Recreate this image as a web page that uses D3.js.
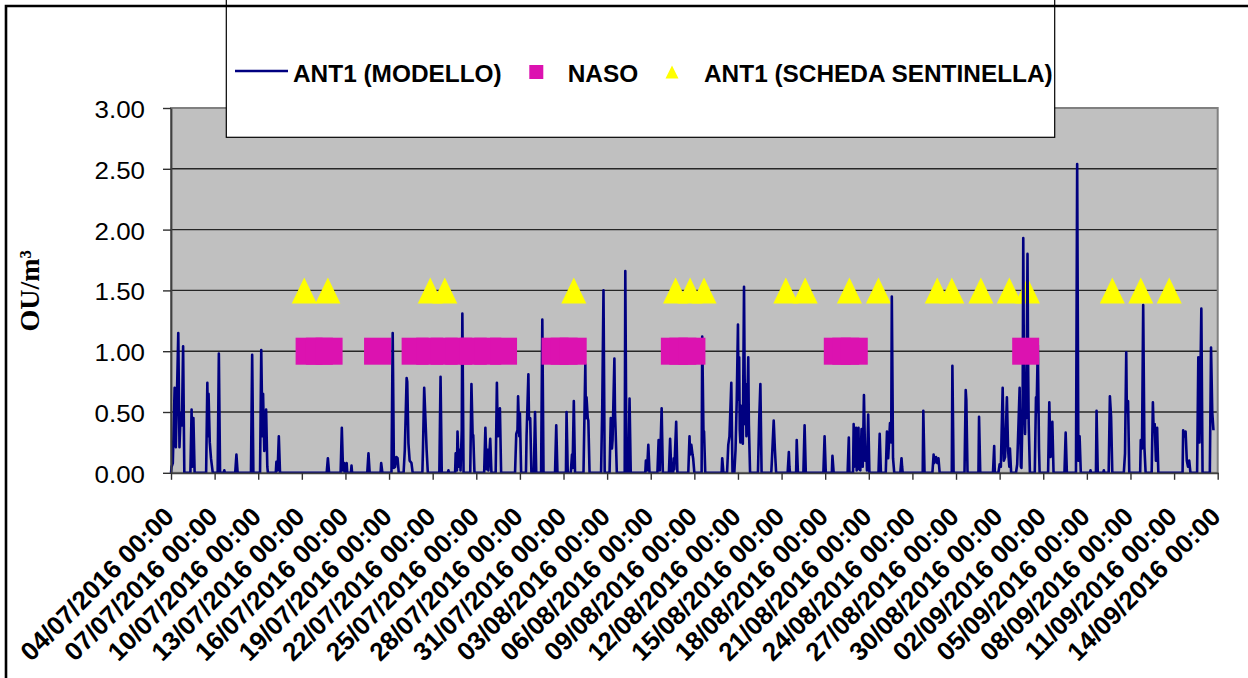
<!DOCTYPE html>
<html>
<head>
<meta charset="utf-8">
<script src="https://cdn.jsdelivr.net/npm/d3@7"></script>
<style>
  html, body { margin: 0; padding: 0; background: #ffffff; }
  svg { display: block; }
</style>
</head>
<body>
<svg id="chart" width="1248" height="678"></svg>
<script>
// Category labels along the time axis (every 3 days)
const tickLabels = [
  "04/07/2016 00:00", "07/07/2016 00:00", "10/07/2016 00:00", "13/07/2016 00:00",
  "16/07/2016 00:00", "19/07/2016 00:00", "22/07/2016 00:00", "25/07/2016 00:00",
  "28/07/2016 00:00", "31/07/2016 00:00", "03/08/2016 00:00", "06/08/2016 00:00",
  "09/08/2016 00:00", "12/08/2016 00:00", "15/08/2016 00:00", "18/08/2016 00:00",
  "21/08/2016 00:00", "24/08/2016 00:00", "27/08/2016 00:00", "30/08/2016 00:00",
  "02/09/2016 00:00", "05/09/2016 00:00", "08/09/2016 00:00", "11/09/2016 00:00",
  "14/09/2016 00:00"
];
const yTicks = [0, 0.5, 1, 1.5, 2, 2.5, 3];

const seriesNames = ["ANT1 (MODELLO)", "NASO", "ANT1 (SCHEDA SENTINELLA)"];

// NASO detections: hours from 04/07/2016 00:00, all at 1.00 OU/m3
const nasoHours = [228, 245, 261, 341, 403, 427, 451, 475, 499, 523, 549,
  634, 649, 664, 831, 845, 860, 1100, 1114, 1128, 1411];
const nasoValues = nasoHours.map(() => 1.0);

// Sentinel card reports: hours from 04/07/2016 00:00, all at 1.50 OU/m3
const sentinellaHours = [220, 259, 428, 452, 665, 833, 857, 880, 1015, 1047,
  1120, 1168, 1265, 1289, 1337, 1384, 1414, 1554, 1601, 1648];
const sentinellaValues = sentinellaHours.map(() => 1.5);

// Model output ANT1: [hour from 04/07/2016 00:00, OU/m3]
const modelSeries = [
  [0,0],[1,0.05],[3,0.08],[6,0.70],[8,0.21],[12,1.15],[14,0.21],[16,0.49],[18,0.39],[20,1.04],[22,0],
  [32,0],[34,0.52],[35,0.05],[37,0.45],[39,0],
  [58,0],[60,0.74],[61,0.30],[62,0.65],[64,0.25],[66,0.12],[67,0.08],[69,0],
  [77,0],[79,0.98],[81,0],
  [87,0],[88,0.02],[89,0],
  [106,0],[108,0.15],[110,0],
  [132,0],[134,0.97],[136,0],
  [147,0],[149,1.01],[151,0.30],[152,0.65],[154,0.18],[157,0.52],[159,0.05],[160,0],
  [173,0],[174,0.09],[176,0.02],[178,0.30],[180,0],
  [257,0],[259,0.12],[261,0],
  [280,0],[282,0.37],[284,0.02],[286,0.08],[287,0],[290,0.08],[291,0],[297,0],[298,0.06],[299,0],
  [324,0],[326,0.16],[328,0],
  [346,0],[347,0.08],[349,0],
  [364,0],[366,1.15],[368,0.04],[370,0.05],[372,0.13],[374,0.12],[376,0],
  [384,0],[386,0.19],[389,0.78],[390,0.75],[392,0.24],[394,0.10],[397,0.08],[399,0],
  [415,0],[416,0.20],[418,0.70],[420,0.45],[422,0.19],[424,0],
  [443,0],[445,0.79],[447,0],
  [457,0],[458,0.02],[459,0],
  [469,0],[470,0.16],[472,0.02],[473,0.34],[475,0.05],[477,0.19],[478,0.02],[480,0.35],[481,1.31],[483,0],
  [494,0],[496,0.73],[498,0.30],[499,0.31],[501,0],
  [517,0],[519,0.37],[521,0.03],[523,0.19],[524,0.02],[527,0.28],[529,0],
  [536,0],[538,0.74],[539,0.45],[540,0.30],[541,0.35],[543,0.53],[545,0],
  [568,0],[570,0.32],[572,0.35],[573,0.63],[575,0.30],[576,0.49],[578,0],
  [586,0],[587,0.30],[590,0.81],[591,0.44],[593,0.45],[595,0],
  [599,0],[601,0.50],[603,0],
  [611,0],[613,1.26],[615,0],
  [634,0],[636,0.39],[638,0],
  [652,0],[653,0.50],[655,0],
  [660,0],[662,0.15],[663,0.04],[665,0.59],[667,0],
  [681,0],[684,0.89],[685,0.45],[686,0.62],[688,0.45],[689,0.43],[691,0],
  [710,0],[712,0.56],[714,1.50],[716,0],
  [724,0],[726,0.45],[728,0.20],[729,0.27],[732,0.94],[733,0.50],[734,0.35],[736,0],
  [749,0],[750,1.66],[752,0],
  [755,0],[757,0.61],[759,0],
  [783,0],[784,0.10],[786,0.02],[788,0.23],[790,0],
  [803,0],[805,0.27],[807,0.02],[810,0.53],[812,0],
  [822,0],[824,0.28],[826,0],
  [829,0],[830,0.12],[831,0.03],[834,0.42],[836,0],
  [854,0],[856,0.30],[857,0.15],[859,0.23],[861,0.15],[862,0.12],[864,0],
  [876,0],[877,1.12],[879,0.35],[880,0.34],[882,0],
  [909,0],[910,0.12],[912,0],
  [918,0],[920,0.23],[922,0.30],[925,0.74],[927,0],
  [930,0],[932,0.19],[934,0.60],[936,1.22],[937,0.60],[938,0.95],[939,0.35],[940,0.25],[941,0.55],
  [942,0.30],[943,0.45],[944,0.24],[946,1.53],[947,0.80],[948,0.40],[949,0.73],[950,0.30],[951,0.45],
  [953,0.95],[954,0.40],[956,0],
  [969,0],[971,0.43],[973,0.73],[975,0],
  [991,0],[992,0.10],[995,0.43],[997,0.19],[999,0],
  [1018,0],[1020,0.17],[1021,0.05],[1022,0],
  [1032,0],[1033,0.27],[1035,0],
  [1044,0],[1046,0.39],[1048,0],
  [1077,0],[1079,0.30],[1081,0],
  [1091,0],[1092,0.14],[1094,0],
  [1117,0],[1119,0.29],[1120,0],
  [1126,0],[1127,0.40],[1128,0.05],[1131,0.37],[1132,0.02],[1135,0.37],[1136,0.03],[1138,0.02],
  [1140,0.36],[1142,0.05],[1144,0.64],[1146,0.10],[1148,0.19],[1149,0.02],[1151,0.48],[1153,0],
  [1168,0],[1170,0.32],[1172,0],
  [1180,0],[1182,0.34],[1184,0.12],[1187,0.41],[1189,0.25],[1190,1.45],[1192,0.12],[1194,0],
  [1204,0],[1206,0.12],[1207,0.05],[1208,0],
  [1241,0],[1242,0.51],[1244,0],
  [1257,0],[1259,0.15],[1260,0.08],[1263,0.13],[1265,0.08],[1267,0.12],[1269,0],
  [1289,0],[1290,0.88],[1292,0],
  [1310,0],[1312,0.68],[1313,0.60],[1315,0],
  [1333,0],[1334,0.46],[1336,0],
  [1357,0],[1359,0.22],[1360,0],
  [1366,0],[1368,0.07],[1370,0.05],[1373,0.70],[1375,0.10],[1377,0.13],[1380,0.62],[1382,0.18],
  [1384,0.05],[1385,0.20],[1387,0],
  [1395,0],[1397,0.07],[1401,0.70],[1403,0.05],[1404,0.04],[1406,0.55],[1407,1.93],[1408,0.90],
  [1409,0.60],[1410,0.32],[1411,0.80],[1412,0.45],[1414,1.80],[1415,0.90],[1416,0.40],[1418,0],
  [1426,0],[1428,0.62],[1429,0.50],[1431,1.05],[1433,0.20],[1434,0],
  [1448,0],[1450,0.58],[1452,0.13],[1455,0.42],[1457,0],
  [1475,0],[1477,0.33],[1479,0],
  [1494,0],[1496,2.54],[1498,0.10],[1500,0.30],[1502,0],
  [1517,0],[1518,0.02],[1519,0],
  [1527,0],[1528,0.51],[1530,0],
  [1539,0],[1540,0.02],[1541,0],
  [1548,0],[1550,0.63],[1552,0.46],[1554,0],
  [1573,0],[1575,0.16],[1577,0.99],[1578,0.50],[1580,0.59],[1582,0],
  [1600,0],[1601,0.27],[1603,0.20],[1605,1.38],[1607,0.21],[1609,0],
  [1619,0],[1621,0.58],[1622,0.40],[1624,0.40],[1626,0.10],[1628,0.37],[1630,0],
  [1670,0],[1671,0.35],[1673,0.30],[1675,0.34],[1677,0.10],[1679,0.05],[1681,0.10],[1683,0],
  [1694,0],[1696,0.95],[1698,0.25],[1701,1.35],[1703,0],
  [1715,0],[1717,1.03],[1719,0.50],[1721,0.35]
];

// ---- layout & styles ----
const W = 1248, H = 678;
const plot = { left: 171, right: 1217.7, top: 108, bottom: 472.8 };
const colors = { plotBg: "#C0C0C0", line: "#000080", naso: "#DC12B0", sentinella: "#FFFF00" };
const sansFont = "'Liberation Sans', Arial, Helvetica, sans-serif";
const serifFont = "'Liberation Serif', 'Times New Roman', serif";

const svg = d3.select("#chart");

const parseLabel = d3.utcParse("%d/%m/%Y %H:%M");
const tickDates = tickLabels.map(parseLabel);
const start = tickDates[0];
const end = tickDates[tickDates.length - 1];
const hourToDate = h => new Date(start.getTime() + h * 3600000);

const x = d3.scaleUtc().domain([start, end]).range([plot.left, plot.right]);
const y = d3.scaleLinear().domain([0, 3]).range([plot.bottom, plot.top]);

// plot background
svg.append("rect")
  .attr("x", plot.left).attr("y", plot.top)
  .attr("width", plot.right - plot.left).attr("height", plot.bottom - plot.top)
  .attr("fill", colors.plotBg);

// horizontal gridlines
svg.append("g")
  .selectAll("line")
  .data(yTicks.filter(v => v > 0 && v < 3))
  .join("line")
  .attr("x1", plot.left).attr("x2", plot.right)
  .attr("y1", d => y(d)).attr("y2", d => y(d))
  .attr("stroke", "#262626").attr("stroke-width", 1.4);

// plot frame
svg.append("rect")
  .attr("x", plot.left).attr("y", plot.top)
  .attr("width", plot.right - plot.left).attr("height", plot.bottom - plot.top)
  .attr("fill", "none").attr("stroke", "#808080").attr("stroke-width", 2);

// sentinel card triangles
const triW = 25, triH = 26;
const triPath = (cx, cy, w, h) =>
  `M${cx},${cy - h / 2}L${cx + w / 2},${cy + h / 2}L${cx - w / 2},${cy + h / 2}Z`;
svg.append("g")
  .selectAll("path")
  .data(sentinellaHours.map((h, i) => [h, sentinellaValues[i]]))
  .join("path")
  .attr("d", d => triPath(x(hourToDate(d[0])), y(d[1]), triW, triH))
  .attr("fill", colors.sentinella);

// model line
const line = d3.line()
  .x(d => x(hourToDate(d[0])))
  .y(d => y(d[1]));
svg.append("path")
  .datum(modelSeries)
  .attr("d", line)
  .attr("fill", "none")
  .attr("stroke", colors.line)
  .attr("stroke-width", 2.6)
  .attr("stroke-linejoin", "round");

// NASO squares
const sq = 27;
svg.append("g")
  .selectAll("rect")
  .data(nasoHours.map((h, i) => [h, nasoValues[i]]))
  .join("rect")
  .attr("x", d => x(hourToDate(d[0])) - sq / 2)
  .attr("y", d => y(d[1]) - sq / 2)
  .attr("width", sq).attr("height", sq)
  .attr("fill", colors.naso);

// y axis
const yLabelStretch = 1.08;
const yAxis = svg.append("g")
  .attr("transform", `translate(${plot.left},0)`)
  .call(d3.axisLeft(y).tickValues(yTicks).tickFormat(d3.format(".2f"))
    .tickSize(8).tickPadding(18).tickSizeOuter(0));
yAxis.select(".domain").attr("stroke", "#404040").attr("stroke-width", 1.8);
yAxis.selectAll(".tick line").attr("stroke", "#303030").attr("stroke-width", 1.4);
yAxis.selectAll(".tick text")
  .attr("font-family", sansFont).attr("font-size", 24)
  .attr("fill", "#000").attr("dy", "9.5")
  .attr("x", -26 / yLabelStretch)
  .attr("transform", `scale(${yLabelStretch},1)`);

// x axis
const xAxis = svg.append("g")
  .attr("transform", `translate(0,${plot.bottom})`)
  .call(d3.axisBottom(x).tickValues(tickDates).tickFormat((d, i) => tickLabels[i])
    .tickSize(7).tickSizeOuter(0));
xAxis.select(".domain").attr("stroke", "#404040").attr("stroke-width", 1.8);
xAxis.selectAll(".tick line").attr("stroke", "#303030").attr("stroke-width", 1.4);
xAxis.selectAll(".tick text")
  .attr("x", 0).attr("y", 0).attr("dy", 0)
  .attr("transform", "translate(4,45.5) rotate(-45)")
  .attr("text-anchor", "end")
  .attr("font-family", sansFont).attr("font-size", 26).attr("font-weight", "bold")
  .attr("fill", "#000");

// y axis title
svg.append("text")
  .attr("transform", "translate(39,290.8) rotate(-90)")
  .attr("text-anchor", "middle")
  .attr("font-family", serifFont).attr("font-size", 28).attr("font-weight", "bold")
  .attr("fill", "#000")
  .text("OU/m³");

// legend
const legend = svg.append("g");
legend.append("rect")
  .attr("x", 226.3).attr("y", -2).attr("width", 828.4).attr("height", 139.3)
  .attr("fill", "#ffffff").attr("stroke", "#000").attr("stroke-width", 1.2);
const legY = 72, legBase = 82;
legend.append("line")
  .attr("x1", 235).attr("x2", 288).attr("y1", legY - 1).attr("y2", legY - 1)
  .attr("stroke", colors.line).attr("stroke-width", 2.3);
legend.append("rect")
  .attr("x", 529.3).attr("y", legY - 7).attr("width", 14).attr("height", 14)
  .attr("fill", colors.naso);
legend.append("path")
  .attr("d", triPath(672, legY, 13, 13))
  .attr("fill", colors.sentinella);
const legTextX = [293, 567.7, 704];
legend.selectAll("text")
  .data(seriesNames)
  .join("text")
  .attr("x", (d, i) => legTextX[i]).attr("y", legBase)
  .attr("font-family", sansFont).attr("font-size", 24.4).attr("font-weight", "bold")
  .attr("fill", "#000")
  .text(d => d);

// outer chart frame (left and top edges visible)
svg.append("path")
  .attr("d", `M6,${H + 5}L6,6L${W + 5},6`)
  .attr("fill", "none").attr("stroke", "#000").attr("stroke-width", 2.6);
</script>
</body>
</html>
